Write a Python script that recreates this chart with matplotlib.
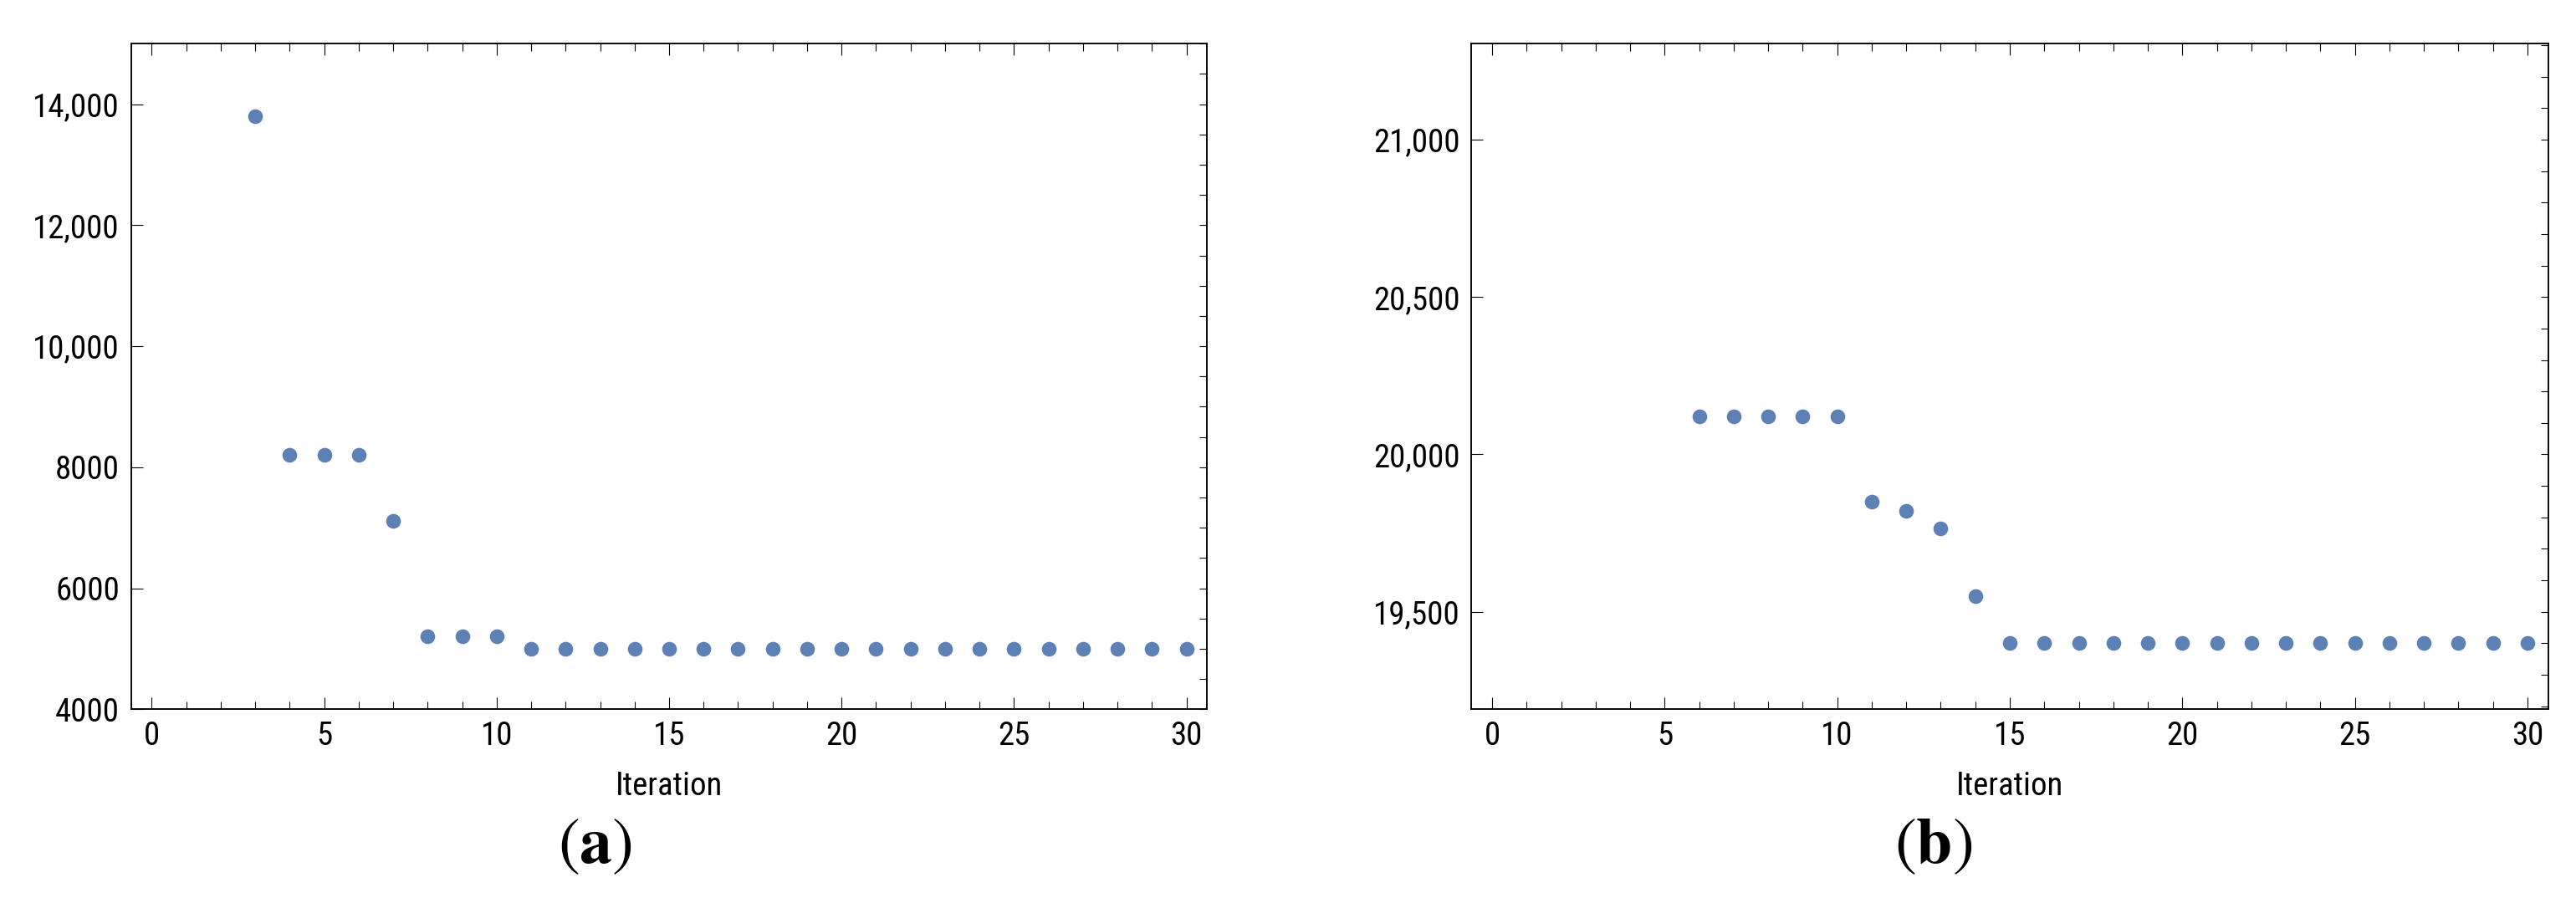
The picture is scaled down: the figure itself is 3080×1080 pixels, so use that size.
import matplotlib
matplotlib.use('Agg')
import matplotlib.pyplot as plt
from matplotlib.ticker import MultipleLocator, FuncFormatter, NullLocator

plt.rcParams['font.family'] = ['Roboto Condensed', 'Liberation Sans', 'DejaVu Sans']
plt.rcParams['mathtext.fontset'] = 'stix'

# (a) objective value per iteration
iter_a = [3, 4, 5, 6, 7, 8, 9, 10, 11, 12, 13, 14, 15, 16, 17, 18, 19, 20,
          21, 22, 23, 24, 25, 26, 27, 28, 29, 30]
cost_a = [13800, 8210, 8210, 8210, 7110, 5210, 5210, 5210, 5000, 5000, 5000,
          5000, 5000, 5000, 5000, 5000, 5000, 5000, 5000, 5000, 5000, 5000,
          5000, 5000, 5000, 5000, 5000, 5000]

# (b) objective value per iteration
iter_b = [6, 7, 8, 9, 10, 11, 12, 13, 14, 15, 16, 17, 18, 19, 20, 21, 22, 23,
          24, 25, 26, 27, 28, 29, 30]
cost_b = [20120, 20120, 20120, 20120, 20120, 19850, 19820, 19765, 19550,
          19400, 19400, 19400, 19400, 19400, 19400, 19400, 19400, 19400,
          19400, 19400, 19400, 19400, 19400, 19400, 19400]

DOT = '#5E81B5'
W, H = 3080, 1080


def fmt(v, pos):
    # mathematica style: comma only from 10,000 up
    return f'{v:,.0f}' if v >= 10000 else f'{v:.0f}'


def panel(rect, x, y, ylim, major, minor, tag, tag_x):
    ax = fig.add_axes(rect)
    ax.plot(x, y, 'o', ms=12.7, color=DOT, mec='none', clip_on=False, zorder=3)
    ax.set_xlim(-0.6, 30.6)
    ax.set_ylim(*ylim)

    ax.xaxis.set_major_locator(MultipleLocator(5))
    ax.xaxis.set_minor_locator(MultipleLocator(1))
    ax.yaxis.set_major_locator(MultipleLocator(major))
    ax.yaxis.set_minor_locator(NullLocator())
    ax.yaxis.set_major_formatter(FuncFormatter(fmt))

    ax.tick_params(axis='x', which='both', direction='in', top=True, bottom=True, width=0.8)
    ax.tick_params(axis='x', which='major', length=10.3, pad=9.6, labelsize=28)
    ax.tick_params(axis='x', which='minor', length=6.5)
    ax.tick_params(axis='y', which='major', direction='in', left=True, right=False,
                   length=10, width=0.8, pad=9.9, labelsize=28)
    for s in ax.spines.values():
        s.set_linewidth(1.1)

    # right frame carries only small ticks
    tw = ax.twinx()
    tw.set_ylim(*ylim)
    tw.yaxis.set_major_locator(MultipleLocator(minor))
    tw.tick_params(axis='y', direction='in', length=6.7, width=0.8, labelright=False)
    for s in tw.spines.values():
        s.set_linewidth(1.1)

    ax.set_xlabel('Iteration', fontsize=28)
    ax.xaxis.set_label_coords(0.5, -0.093)

    fig.text(tag_x / W, 1 - 1011 / H, tag, fontsize=56, ha='center', va='center')
    return ax


fig = plt.figure(figsize=(30.8, 10.8), dpi=100)
fig.patch.set_facecolor('white')

bottom = (H - 848.3) / H
height = 796 / H
panel([156.7 / W, bottom, 1286.6 / W, height], iter_a, cost_a,
      (4000, 15000), 2000, 500, r'$(\mathbf{a})$', 711)
panel([1759.3 / W, bottom, 1287.4 / W, height], iter_b, cost_b,
      (19190, 21305), 500, 100, r'$(\mathbf{b})$', 2312)

fig.savefig('out.png', dpi=100, facecolor='white')
